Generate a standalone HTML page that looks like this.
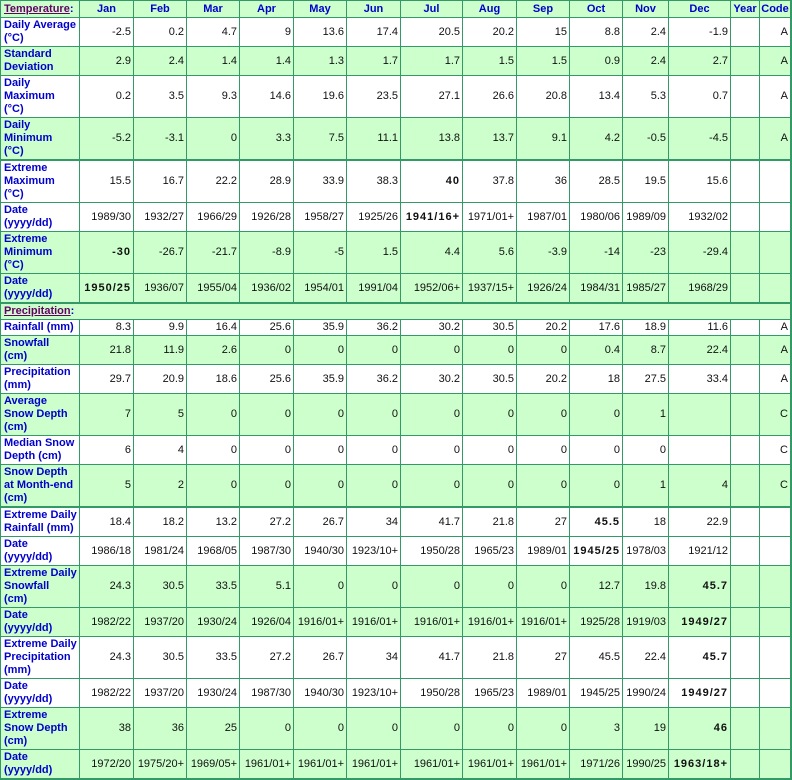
<!DOCTYPE html>
<html>
<head>
<meta charset="utf-8">
<style>
html,body{margin:0;padding:0;background:#fff;}
body{width:792px;height:780px;overflow:hidden;position:relative;font-family:"Liberation Sans",Arial,sans-serif;font-size:11px;line-height:13px;color:#111;}
.t{position:absolute;left:0;top:0;width:791px;border-left:1px solid #339966;border-top:1px solid #339966;display:grid;
grid-template-columns:79px 54px 53px 53px 54px 53px 54px 62px 54px 53px 53px 46px 62px 29px 32px;
grid-template-rows:17px 29px 29px 42px 43px 42px 29px 42px 30px 16px 16px 29px 29px 42px 29px 43px 29px 29px 42px 29px 42px 29px 42px 30px;}
.r{display:contents;}
.r>div{box-sizing:border-box;border-right:1px solid #339966;border-bottom:1px solid #339966;display:flex;align-items:center;justify-content:flex-end;padding:0 2px 0 0;white-space:nowrap;overflow:hidden;}
.r>div:first-child{justify-content:flex-start;padding:0 0 0 3px;font-weight:bold;color:#0000cc;}
.r>div:last-child{border-right-width:2px;}
.g>div{background:#ccffcc;}
.w>div{background:#fff;}
.k>div{border-bottom-width:2px;}
.hd>div{justify-content:center;padding:0;font-weight:bold;color:#0000cc;}
.hd>div:first-child{justify-content:flex-start;padding-left:3px;}
.sec>div{grid-column:1 / -1;}
u{color:#660066;text-decoration:underline;}
b{letter-spacing:1px;}
</style>
</head>
<body>
<div class="t">
<div class="r g hd"><div><span><u>Temperature</u>:</span></div><div>Jan</div><div>Feb</div><div>Mar</div><div>Apr</div><div>May</div><div>Jun</div><div>Jul</div><div>Aug</div><div>Sep</div><div>Oct</div><div>Nov</div><div>Dec</div><div>Year</div><div>Code</div></div>

<div class="r w"><div><span>Daily Average<br>(°C)</span></div><div>-2.5</div><div>0.2</div><div>4.7</div><div>9</div><div>13.6</div><div>17.4</div><div>20.5</div><div>20.2</div><div>15</div><div>8.8</div><div>2.4</div><div>-1.9</div><div></div><div>A</div></div>

<div class="r g"><div><span>Standard<br>Deviation</span></div><div>2.9</div><div>2.4</div><div>1.4</div><div>1.4</div><div>1.3</div><div>1.7</div><div>1.7</div><div>1.5</div><div>1.5</div><div>0.9</div><div>2.4</div><div>2.7</div><div></div><div>A</div></div>

<div class="r w"><div><span>Daily<br>Maximum<br>(°C)</span></div><div>0.2</div><div>3.5</div><div>9.3</div><div>14.6</div><div>19.6</div><div>23.5</div><div>27.1</div><div>26.6</div><div>20.8</div><div>13.4</div><div>5.3</div><div>0.7</div><div></div><div>A</div></div>

<div class="r g k"><div><span>Daily<br>Minimum<br>(°C)</span></div><div>-5.2</div><div>-3.1</div><div>0</div><div>3.3</div><div>7.5</div><div>11.1</div><div>13.8</div><div>13.7</div><div>9.1</div><div>4.2</div><div>-0.5</div><div>-4.5</div><div></div><div>A</div></div>

<div class="r w"><div><span>Extreme<br>Maximum<br>(°C)</span></div><div>15.5</div><div>16.7</div><div>22.2</div><div>28.9</div><div>33.9</div><div>38.3</div><div><b>40</b></div><div>37.8</div><div>36</div><div>28.5</div><div>19.5</div><div>15.6</div><div></div><div></div></div>

<div class="r w"><div><span>Date<br>(yyyy/dd)</span></div><div>1989/30</div><div>1932/27</div><div>1966/29</div><div>1926/28</div><div>1958/27</div><div>1925/26</div><div><b>1941/16+</b></div><div>1971/01+</div><div>1987/01</div><div>1980/06</div><div>1989/09</div><div>1932/02</div><div></div><div></div></div>

<div class="r g"><div><span>Extreme<br>Minimum<br>(°C)</span></div><div><b>-30</b></div><div>-26.7</div><div>-21.7</div><div>-8.9</div><div>-5</div><div>1.5</div><div>4.4</div><div>5.6</div><div>-3.9</div><div>-14</div><div>-23</div><div>-29.4</div><div></div><div></div></div>

<div class="r g k"><div><span>Date<br>(yyyy/dd)</span></div><div><b>1950/25</b></div><div>1936/07</div><div>1955/04</div><div>1936/02</div><div>1954/01</div><div>1991/04</div><div>1952/06+</div><div>1937/15+</div><div>1926/24</div><div>1984/31</div><div>1985/27</div><div>1968/29</div><div></div><div></div></div>

<div class="r g sec"><div><span><u>Precipitation</u>:</span></div></div>

<div class="r w"><div><span>Rainfall (mm)</span></div><div>8.3</div><div>9.9</div><div>16.4</div><div>25.6</div><div>35.9</div><div>36.2</div><div>30.2</div><div>30.5</div><div>20.2</div><div>17.6</div><div>18.9</div><div>11.6</div><div></div><div>A</div></div>

<div class="r g"><div><span>Snowfall<br>(cm)</span></div><div>21.8</div><div>11.9</div><div>2.6</div><div>0</div><div>0</div><div>0</div><div>0</div><div>0</div><div>0</div><div>0.4</div><div>8.7</div><div>22.4</div><div></div><div>A</div></div>

<div class="r w"><div><span>Precipitation<br>(mm)</span></div><div>29.7</div><div>20.9</div><div>18.6</div><div>25.6</div><div>35.9</div><div>36.2</div><div>30.2</div><div>30.5</div><div>20.2</div><div>18</div><div>27.5</div><div>33.4</div><div></div><div>A</div></div>

<div class="r g"><div><span>Average<br>Snow Depth<br>(cm)</span></div><div>7</div><div>5</div><div>0</div><div>0</div><div>0</div><div>0</div><div>0</div><div>0</div><div>0</div><div>0</div><div>1</div><div></div><div></div><div>C</div></div>

<div class="r w"><div><span>Median Snow<br>Depth (cm)</span></div><div>6</div><div>4</div><div>0</div><div>0</div><div>0</div><div>0</div><div>0</div><div>0</div><div>0</div><div>0</div><div>0</div><div></div><div></div><div>C</div></div>

<div class="r g k"><div><span>Snow Depth<br>at Month-end<br>(cm)</span></div><div>5</div><div>2</div><div>0</div><div>0</div><div>0</div><div>0</div><div>0</div><div>0</div><div>0</div><div>0</div><div>1</div><div>4</div><div></div><div>C</div></div>

<div class="r w"><div><span>Extreme Daily<br>Rainfall (mm)</span></div><div>18.4</div><div>18.2</div><div>13.2</div><div>27.2</div><div>26.7</div><div>34</div><div>41.7</div><div>21.8</div><div>27</div><div><b>45.5</b></div><div>18</div><div>22.9</div><div></div><div></div></div>

<div class="r w"><div><span>Date<br>(yyyy/dd)</span></div><div>1986/18</div><div>1981/24</div><div>1968/05</div><div>1987/30</div><div>1940/30</div><div>1923/10+</div><div>1950/28</div><div>1965/23</div><div>1989/01</div><div><b>1945/25</b></div><div>1978/03</div><div>1921/12</div><div></div><div></div></div>

<div class="r g"><div><span>Extreme Daily<br>Snowfall<br>(cm)</span></div><div>24.3</div><div>30.5</div><div>33.5</div><div>5.1</div><div>0</div><div>0</div><div>0</div><div>0</div><div>0</div><div>12.7</div><div>19.8</div><div><b>45.7</b></div><div></div><div></div></div>

<div class="r g"><div><span>Date<br>(yyyy/dd)</span></div><div>1982/22</div><div>1937/20</div><div>1930/24</div><div>1926/04</div><div>1916/01+</div><div>1916/01+</div><div>1916/01+</div><div>1916/01+</div><div>1916/01+</div><div>1925/28</div><div>1919/03</div><div><b>1949/27</b></div><div></div><div></div></div>

<div class="r w"><div><span>Extreme Daily<br>Precipitation<br>(mm)</span></div><div>24.3</div><div>30.5</div><div>33.5</div><div>27.2</div><div>26.7</div><div>34</div><div>41.7</div><div>21.8</div><div>27</div><div>45.5</div><div>22.4</div><div><b>45.7</b></div><div></div><div></div></div>

<div class="r w"><div><span>Date<br>(yyyy/dd)</span></div><div>1982/22</div><div>1937/20</div><div>1930/24</div><div>1987/30</div><div>1940/30</div><div>1923/10+</div><div>1950/28</div><div>1965/23</div><div>1989/01</div><div>1945/25</div><div>1990/24</div><div><b>1949/27</b></div><div></div><div></div></div>

<div class="r g"><div><span>Extreme<br>Snow Depth<br>(cm)</span></div><div>38</div><div>36</div><div>25</div><div>0</div><div>0</div><div>0</div><div>0</div><div>0</div><div>0</div><div>3</div><div>19</div><div><b>46</b></div><div></div><div></div></div>

<div class="r g k"><div><span>Date<br>(yyyy/dd)</span></div><div>1972/20</div><div>1975/20+</div><div>1969/05+</div><div>1961/01+</div><div>1961/01+</div><div>1961/01+</div><div>1961/01+</div><div>1961/01+</div><div>1961/01+</div><div>1971/26</div><div>1990/25</div><div><b>1963/18+</b></div><div></div><div></div></div>
</div>
</body>
</html>
